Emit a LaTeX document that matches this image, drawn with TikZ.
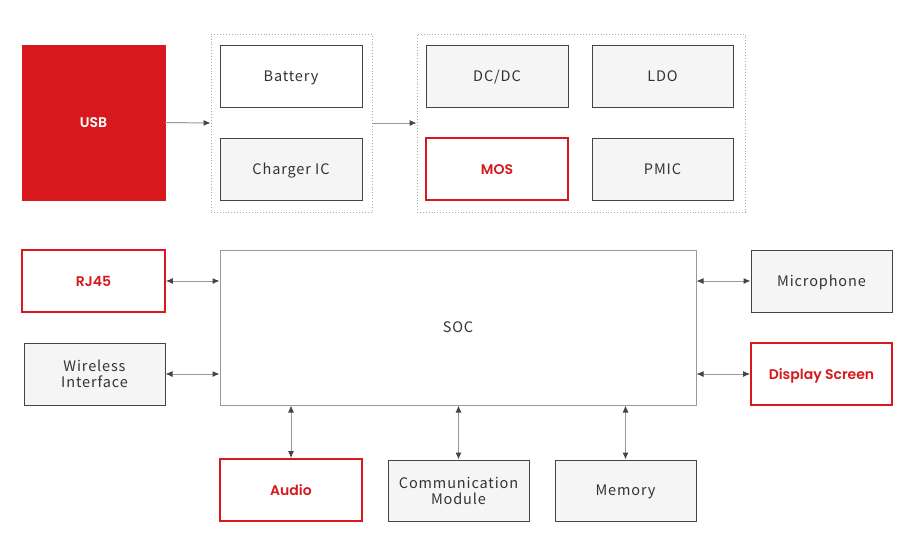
\documentclass[tikz,border=0pt]{standalone}
\usepackage{fontspec}
\usetikzlibrary{arrows.meta}
\newfontfamily\gfont[LetterSpace=6]{Noto Sans CJK SC}
\newfontfamily\rfont{Poppins}[BoldFont={Poppins SemiBold}]
\newfontfamily\ufont{Poppins}[BoldFont={Poppins SemiBold}]
\definecolor{myred}{HTML}{D7181C}
\definecolor{gfill}{HTML}{F5F5F5}
\definecolor{gtext}{HTML}{333333}
\definecolor{gline}{HTML}{444444}
\definecolor{aline}{HTML}{999999}
\definecolor{dline}{HTML}{AAAAAA}
\begin{document}
\begin{tikzpicture}[x=1pt,y=-1pt,
  oneline/.style={text height=10pt,text depth=0pt},
  gbase/.style={draw=gline,line width=1pt,fill=gfill,font=\gfont\fontsize{14.5}{16}\selectfont,text=gtext,align=center},
  gbox/.style={gbase,oneline},
  wbox/.style={gbox,fill=white},
  rbox/.style={draw=myred,line width=1.6pt,fill=white,font=\rfont\bfseries\fontsize{14}{16}\selectfont,text=myred,oneline},
  grp/.style={draw=dline,dotted,line width=0.9pt},
  arr/.style={draw=aline,line width=1pt,-{Latex[length=7pt,width=6pt,color=gline]}},
  darr/.style={draw=aline,line width=1pt,{Latex[length=7pt,width=6pt,color=gline]}-{Latex[length=7pt,width=6pt,color=gline]}}
]
\useasboundingbox (0,0) rectangle (914,536);
% top row
\node[fill=myred,draw=myred,minimum width=143pt,minimum height=155pt,inner sep=0pt,text=white,font=\ufont\bfseries\fontsize{14}{16}\selectfont,oneline] (usb) at (93.5,122.5) {USB};
\node[grp,minimum width=161pt,minimum height=178pt] (g1) at (291.5,123) {};
\node[grp,minimum width=328pt,minimum height=178pt] (g2) at (581,123) {};
\node[wbox,minimum width=142pt,minimum height=62pt] (bat) at (291,76) {Battery};
\node[gbox,minimum width=142pt,minimum height=62pt] (chg) at (291,169) {Charger IC};
\node[gbox,minimum width=142pt,minimum height=62pt] (dcdc) at (497,76) {DC/DC};
\node[gbox,minimum width=141pt,minimum height=62pt] (ldo) at (662.5,76) {LDO};
\node[rbox,minimum width=142pt,minimum height=62pt] (mos) at (497,169) {MOS};
\node[gbox,minimum width=141pt,minimum height=62pt] (pmic) at (662.5,169) {PMIC};
\draw[arr] (usb.east) -- (g1.west);
\draw[arr] (g1.east) -- (g2.west);
% middle
\node[draw=aline,line width=1pt,fill=white,minimum width=476pt,minimum height=155pt,font=\gfont\fontsize{14.5}{16}\selectfont,text=gtext,oneline] (soc) at (458,327.5) {SOC};
\node[rbox,minimum width=143pt,minimum height=62pt] (rj) at (93.5,281) {RJ45};
\node[gbase,minimum width=141pt,minimum height=62pt] (wl) at (94.5,374) {Wireless\\[0pt]Interface};
\node[gbox,minimum width=141pt,minimum height=62pt] (mic) at (821.5,281) {Microphone};
\node[rbox,minimum width=141pt,minimum height=62pt] (disp) at (821.5,374) {Display Screen};
% bottom
\node[rbox,minimum width=142pt,minimum height=62pt] (aud) at (291,490) {Audio};
\node[gbase,minimum width=141pt,minimum height=61pt] (com) at (458.5,490.5) {Communication\\[0pt]Module};
\node[gbox,minimum width=141pt,minimum height=61pt] (mem) at (625.5,490.5) {Memory};
% connectors
\draw[darr] (rj.east) -- (rj.east -| soc.west);
\draw[darr] (wl.east) -- (wl.east -| soc.west);
\draw[darr] (mic.west -| soc.east) -- (mic.west);
\draw[darr] (disp.west -| soc.east) -- (disp.west);
\draw[darr] (aud.north |- soc.south) -- (aud.north);
\draw[darr] (com.north |- soc.south) -- (com.north);
\draw[darr] (mem.north |- soc.south) -- (mem.north);
\end{tikzpicture}
\end{document}
